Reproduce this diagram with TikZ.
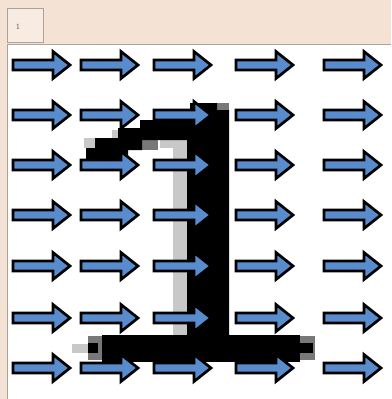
\documentclass[tikz,border=0pt]{standalone}
\definecolor{peach}{RGB}{244,226,212}
\definecolor{tabfill}{RGB}{248,236,226}
\definecolor{arrowblue}{RGB}{88,140,205}
\definecolor{framegray}{RGB}{172,162,152}
\definecolor{softgray}{RGB}{200,200,200}
\definecolor{midgray}{RGB}{120,120,120}
\begin{document}
\begin{tikzpicture}[x=1pt,y=-1pt,
  blockarrow/.style={fill=arrowblue,draw=black,line width=2.7pt,line join=miter},
  ink/.style={fill=black},
  tabbox/.style={draw=framegray,fill=tabfill,line width=0.8pt,minimum width=36pt,minimum height=34pt,inner sep=0pt}]
\useasboundingbox (0,0) rectangle (391,399);
% window background and canvas
\fill[peach] (0,0) rectangle (391,399);
\fill[white] (7,44) rectangle (391,399);
\draw[framegray,line width=1pt] (7,399) -- (7,44) -- (391,44);
% tab with its caption
\node[tabbox] (tab) at (25,25) {};
\node[inner sep=0pt,text=black!70,font=\fontsize{8}{8}\selectfont] (tablabel) at ([xshift=-7pt,yshift=-2pt]tab.center) {1};
% pixelated digit: anti-aliasing shades
\fill[softgray] (173,148) rectangle (187,335);
\fill[softgray] (160,140) rectangle (187,148);
\fill[softgray] (84,138) rectangle (95,148);
\fill[softgray] (112,130) rectangle (118,138);
\fill[softgray] (72,344) rectangle (88,353);
\fill[midgray] (142,138) rectangle (158,150);
\fill[midgray] (88,336) rectangle (102,360);
\fill[midgray] (300,336) rectangle (315,360);
\fill[midgray] (217,103) rectangle (229,110);
% pixelated digit: solid strokes
\fill[ink] (190,103) -- (217,103) -- (217,110) -- (229,110) -- (229,335)
  -- (187,335) -- (187,140) -- (142,140) -- (142,150) -- (128,150) -- (128,162)
  -- (86,162) -- (86,148) -- (95,148) -- (95,138) -- (118,138) -- (118,128)
  -- (140,128) -- (140,120) -- (165,120) -- (165,110) -- (190,110) -- cycle;
\fill[ink] (102,335) rectangle (300,362);
\fill[ink] (88,343) rectangle (98,353);
\fill[ink] (300,343) rectangle (313,353);
% grid of block arrows
\foreach \x in {13,81,154,236,324}{
  \foreach \y in {65,115,165,215,266,318,368}{
    \draw[blockarrow] (\x,{\y-5}) -- ({\x+40},{\y-5}) -- ({\x+40},{\y-13.5})
      -- ({\x+57},\y) -- ({\x+40},{\y+13.5}) -- ({\x+40},{\y+5}) -- (\x,{\y+5}) -- cycle;
  }
}
\end{tikzpicture}
\end{document}
